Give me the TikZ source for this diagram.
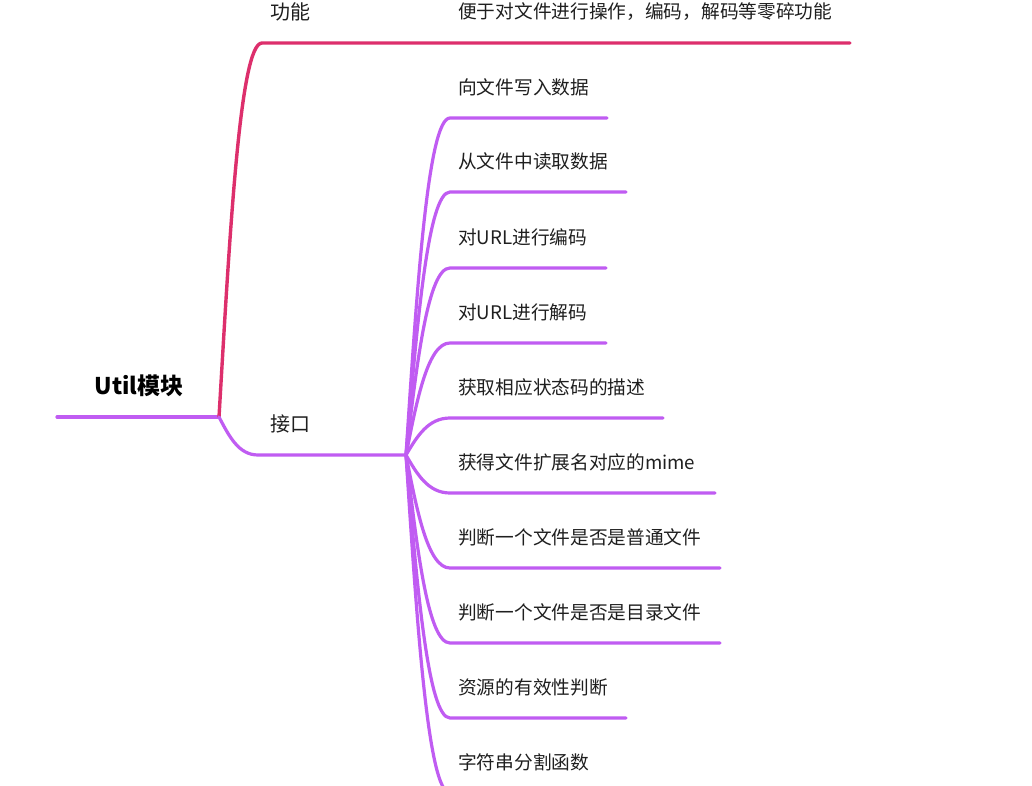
\documentclass[tikz,border=0pt]{standalone}
\usepackage{fontspec}
\setmainfont{Noto Sans CJK SC}
\definecolor{lpurple}{HTML}{C05CF2}
\definecolor{lred}{HTML}{DD2F6C}
\tikzset{
  x=1pt, y=-1pt,
  purpleline/.style={draw=lpurple, line width=3.2pt, line cap=round, line join=round},
  redline/.style={draw=lred, line width=3.4pt, line cap=round, line join=round},
  leaf/.style={anchor=west, inner sep=0pt, font=\fontsize{18.7}{20}\selectfont, text=black!88},
  mainlabel/.style={anchor=west, inner sep=0pt, font=\fontsize{20}{22}\selectfont, text=black!88},
  rootlabel/.style={inner sep=0pt, font=\bfseries\fontsize{23}{25}\selectfont, text=black}
}
\begin{document}
\begin{tikzpicture}
\useasboundingbox (0,0) rectangle (1032,786);
\fill[white] (0,0) rectangle (1032,786);
\clip (0,0) rectangle (1032,786);
% key points
\coordinate (rootL) at (57,417);
\coordinate (rootR) at (219,417);
\coordinate (fnS) at (262,43);
\coordinate (fnE) at (850,43);
\coordinate (ifS) at (258,455);
\coordinate (ifE) at (406,455);
% labels
\node[rootlabel] (root) at (139,386) {Util模块};
\node[mainlabel] (fn) at (270,12) {功能};
\node[mainlabel] (if) at (270,424) {接口};
\node[leaf] (fnc) at (458,12) {便于对文件进行操作，编码，解码等零碎功能};
% root and main branches
\draw[purpleline] (rootL) -- (rootR);
\draw[redline] (rootR) .. controls (230,230) and (240,43) .. (fnS) -- (fnE);
\draw[purpleline] (rootR) .. controls (229,436) and (238.5,455) .. (ifS) -- (ifE);
% children of 接口
\foreach \i/\yy/\ex/\txt in {
  1/118/607/向文件写入数据,
  2/192/626/从文件中读取数据,
  3/268/606/对URL进行编码,
  4/343/606/对URL进行解码,
  5/418/663/获取相应状态码的描述,
  6/493/715/获得文件扩展名对应的mime,
  7/568/720/判断一个文件是否是普通文件,
  8/643/720/判断一个文件是否是目录文件,
  9/718/626/资源的有效性判断,
  10/793/626/字符串分割函数}{
  \coordinate (c\i S) at (450,\yy);
  \coordinate (c\i E) at (\ex,\yy);
  \node[leaf] (c\i) at (458,\yy-31) {\txt};
  \pgfmathsetmacro{\cy}{455+0.5*(\yy-455)}
  \draw[purpleline] (ifE) .. controls (417,\cy) and (428,\yy) .. (c\i S) -- (c\i E);
}
\end{tikzpicture}
\end{document}
